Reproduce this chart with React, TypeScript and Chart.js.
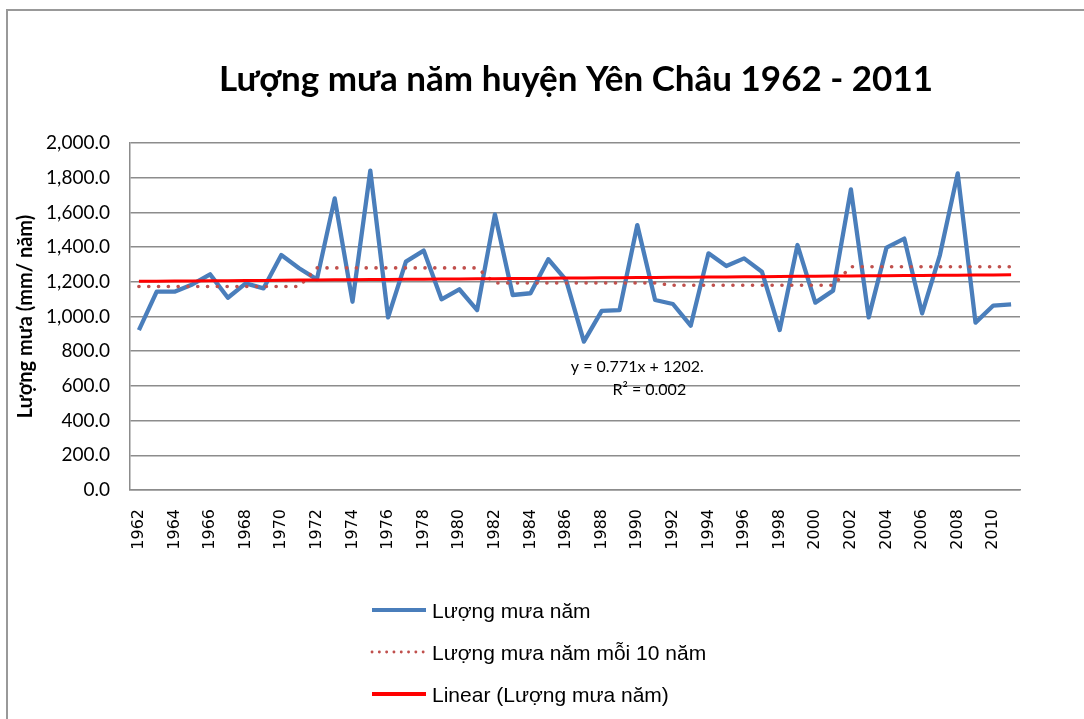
import React, { useEffect, useRef } from "react";
import { Chart, registerables } from "chart.js";

Chart.register(...registerables);

const chartTitle = "Lượng mưa năm huyện Yên Châu 1962 - 2011";
const yAxisTitle = "Lượng mưa (mm/ năm)";
const seriesNames = ["Lượng mưa năm", "Lượng mưa năm mỗi 10 năm", "Linear (Lượng mưa năm)"];
const equationLines = ["y = 0.771x + 1202.", "R² = 0.002"];

const years = [
  "1962", "1963", "1964", "1965", "1966", "1967", "1968", "1969", "1970", "1971",
  "1972", "1973", "1974", "1975", "1976", "1977", "1978", "1979", "1980", "1981",
  "1982", "1983", "1984", "1985", "1986", "1987", "1988", "1989", "1990", "1991",
  "1992", "1993", "1994", "1995", "1996", "1997", "1998", "1999", "2000", "2001",
  "2002", "2003", "2004", "2005", "2006", "2007", "2008", "2009", "2010", "2011",
];

const rainfall = [
  922, 1143, 1143, 1185, 1243, 1108, 1191, 1162, 1354, 1278,
  1214, 1681, 1085, 1841, 995, 1316, 1380, 1099, 1157, 1037,
  1589, 1124, 1134, 1330, 1210, 855, 1032, 1037, 1527, 1095,
  1072, 947, 1364, 1291, 1335, 1258, 922, 1412, 1080, 1149,
  1733, 995, 1397, 1449, 1018, 1354, 1825, 965, 1063, 1070,
];

const decadeMeans = [1173, 1280, 1193, 1180, 1287];
const trendSlope = 0.771;
const trendIntercept = 1202;

const yMin = 0;
const yMax = 2000;
const yStep = 200;

const decadeSeries = years.map((_, i) => decadeMeans[Math.floor(i / 10)]);
const trendSeries = years.map((_, i) => trendSlope * (i + 1) + trendIntercept);

const overlayPlugin = {
  id: "overlay",
  afterDraw(chart: any) {
    const ctx = chart.ctx;
    const ca = chart.chartArea;
    ctx.save();
    ctx.fillStyle = "#000";
    // title
    ctx.font = "bold 35px Lato";
    ctx.textAlign = "center";
    ctx.textBaseline = "middle";
    ctx.fillText(chartTitle, 576, 80);

    // equation
    ctx.font = "16px Lato";
    const ex = ca.left + (ca.right - ca.left) * 0.57;
    ctx.fillText(equationLines[0], ex, 367);
    ctx.fillText(equationLines[1], ex + 12, 390);

    // legend
    const lx0 = 372;
    const lx1 = 426;
    const rowY = [610, 652, 694];
    ctx.font = "21px 'Liberation Sans'";
    ctx.textAlign = "left";
    chart.data.datasets.forEach((ds: any, i: number) => {
      const y = rowY[i];
      ctx.save();
      ctx.strokeStyle = ds.borderColor;
      ctx.lineWidth = i === 1 ? 2.8 : 4;
      if (i === 1) {
        ctx.lineCap = "round";
        ctx.setLineDash([0.1, 7.2]);
      } else {
        ctx.lineCap = "butt";
      }
      ctx.beginPath();
      ctx.moveTo(lx0, y);
      ctx.lineTo(lx1, y);
      ctx.stroke();
      ctx.restore();
      ctx.fillText(ds.label, 432, y + 2);
    });
    ctx.restore();
  },
};

export default function App() {
  const canvasRef = useRef<HTMLCanvasElement | null>(null);

  useEffect(() => {
    if (!canvasRef.current) return;
    const chart = new Chart(canvasRef.current, {
      type: "line",
      data: {
        labels: years,
        datasets: [
          {
            label: seriesNames[0],
            data: rainfall,
            borderColor: "#4A7EBB",
            backgroundColor: "#4A7EBB",
            borderWidth: 4.3,
            pointRadius: 0,
            tension: 0,
            order: 3,
            borderJoinStyle: "round",
          },
          {
            label: seriesNames[1],
            data: decadeSeries,
            borderColor: "#C0504D",
            backgroundColor: "#C0504D",
            borderWidth: 3.6,
            borderDash: [0.1, 9.7],
            borderCapStyle: "round",
            pointRadius: 0,
            tension: 0,
            order: 2,
          },
          {
            label: seriesNames[2],
            data: trendSeries,
            borderColor: "#FF0000",
            backgroundColor: "#FF0000",
            borderWidth: 3,
            pointRadius: 0,
            tension: 0,
            order: 1,
          },
        ],
      },
      options: {
        responsive: false,
        animation: false,
        devicePixelRatio: 1,
        layout: { padding: { left: 14, right: 64, top: 143, bottom: 0 } },
        plugins: {
          legend: { display: false },
          title: { display: false },
          tooltip: { enabled: false },
        },
        scales: {
          x: {
            offset: true,
            grid: { display: false, drawTicks: false, offset: true },
            border: { display: true, color: "#8c8c8c", width: 1.5 },
            ticks: {
              autoSkip: false,
              minRotation: 90,
              maxRotation: 90,
              padding: 19,
              color: "#000",
              font: { family: "'DejaVu Sans'", size: 16 },
              callback: (_v: any, i: number) => (i % 2 === 0 ? years[i] : ""),
            },
            afterFit: (scale: any) => {
              scale.height = 719 - 490;
            },
          },
          y: {
            min: yMin,
            max: yMax,
            grid: { color: "#8c8c8c", lineWidth: 1.5, drawTicks: false },
            border: { display: true, color: "#8c8c8c", width: 1.5 },
            ticks: {
              stepSize: yStep,
              padding: 20,
              color: "#000",
              font: { family: "Lato", size: 19 },
              callback: (v: any) =>
                Number(v).toLocaleString("en-US", { minimumFractionDigits: 1, maximumFractionDigits: 1 }),
            },
            title: {
              display: true,
              text: yAxisTitle,
              color: "#000",
              font: { family: "Lato", size: 20, weight: "bold" },
              padding: { top: 0, bottom: 0 },
            },
            afterFit: (scale: any) => {
              scale.width = 130 - 14;
            },
          },
        },
      },
      plugins: [overlayPlugin],
    } as any);
    return () => chart.destroy();
  }, []);

  return (
    <div>
      <div
        style={{
          position: "absolute",
          left: 6,
          top: 9,
          width: 1078,
          height: 710,
          borderLeft: "2px solid #999",
          borderTop: "2px solid #999",
          boxSizing: "border-box",
        }}
      />
      <canvas
        ref={canvasRef}
        width={1084}
        height={719}
        style={{ position: "absolute", left: 0, top: 0, width: 1084, height: 719 }}
      />
    </div>
  );
}
